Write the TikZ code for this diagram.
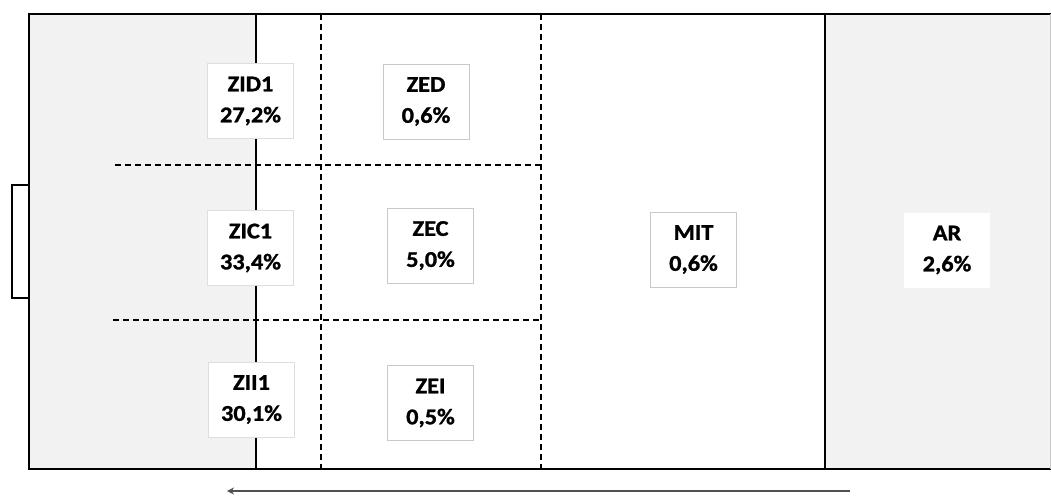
\documentclass[tikz,border=0pt]{standalone}
\usepackage{fontspec}
\setsansfont{Carlito}
\newfontfamily\zonefont[FakeStretch=1.08,FakeBold=1.2]{Carlito}
\usetikzlibrary{arrows.meta}
\definecolor{pitch}{HTML}{F2F2F2}
\definecolor{boxline}{HTML}{C8C8C8}
\definecolor{arrowgray}{HTML}{505050}
\tikzset{
	zone/.style={draw=boxline,line width=0.8pt,fill=white,minimum width=86pt,minimum height=75pt,inner sep=0pt,align=center,font=\zonefont\bfseries\fontsize{22.5}{31}\selectfont},
	zonebare/.style={zone,draw=none},
	split/.style={line width=1.4pt,dash pattern=on 6pt off 4pt},
}

\begin{document}
\begin{tikzpicture}[x=1pt,y=-1pt]
	\useasboundingbox (0,0) rectangle (1051,499);
	% shaded thirds
	\fill[pitch] (29,14) rectangle (256,469);
	\fill[pitch] (825,14) rectangle (1051,469);
	% goal
	\draw[line width=1.3pt] (29,185) -- (12,185) -- (12,298) -- (29,298);
	% outline and zone lines
	\draw[line width=2pt] (1051,14) -- (29,14) -- (29,469) -- (1051,469);
	\draw[boxline,line width=0.8pt] (1050.5,14) -- (1050.5,469);
	\draw[line width=1.3pt] (256,14) -- (256,469);
	\draw[line width=1.5pt] (825,14) -- (825,469);
	\draw[split] (321,14) -- (321,469);
	\draw[split] (541,14) -- (541,469);
	\draw[split] (115,165) -- (541,165);
	\draw[split] (113,320) -- (541,320);
	% zones
	\node[zone,draw=boxline!60] (zid) at (250.5,101) {ZID1\\27,2\%};
	\node[zone,draw=boxline!60] (zic) at (250.5,248) {ZIC1\\33,4\%};
	\node[zone,draw=boxline!60] (zii) at (251.5,399.5) {ZII1\\30,1\%};
	\node[zone] (zed) at (426,101.5) {ZED\\0,6\%};
	\node[zone] (zec) at (430.5,245.5) {ZEC\\5,0\%};
	\node[zone] (zei) at (430.5,403) {ZEI\\0,5\%};
	\node[zone] (mit) at (693.5,249.5) {MIT\\0,6\%};
	\node[zonebare] (ar) at (947,250) {AR\\2,6\%};
	% direction of play
	\coordinate (playstart) at (850,491);
	\coordinate (playend) at (227,491);
	\draw[arrowgray,line width=2pt,-{Stealth[length=7pt,width=7pt]}] (playstart) -- (playend);
\end{tikzpicture}
\end{document}
